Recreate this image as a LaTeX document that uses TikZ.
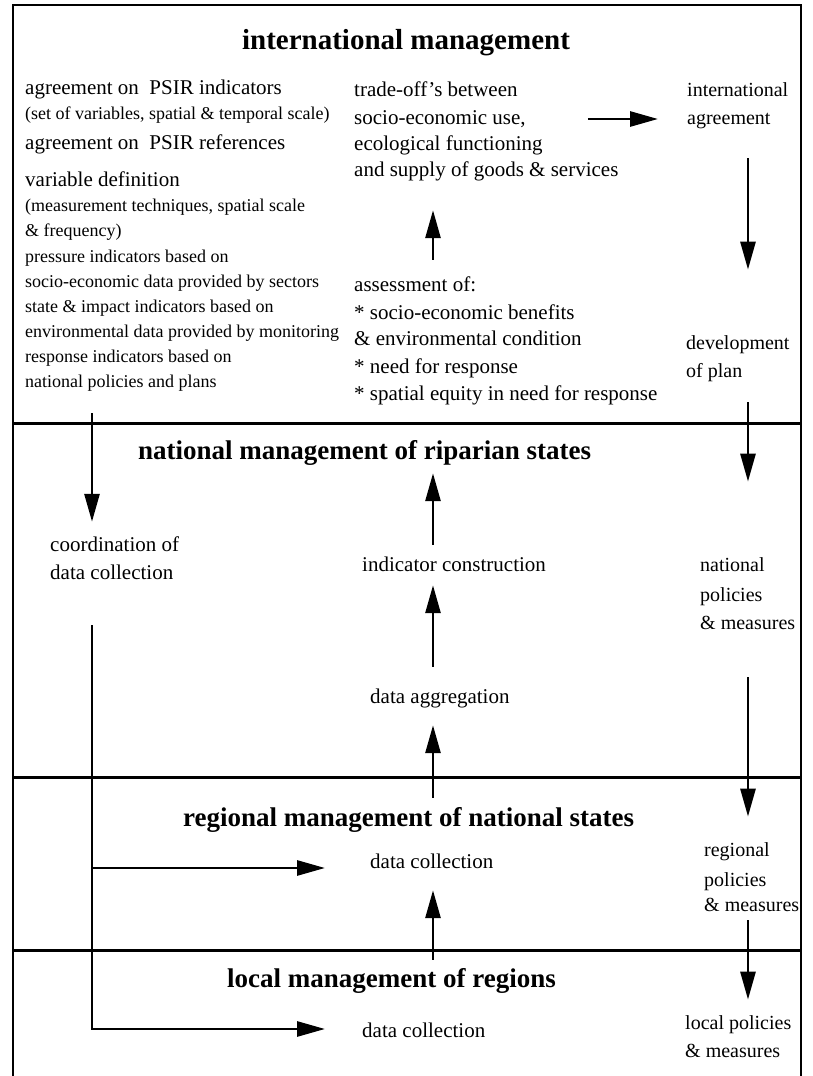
\documentclass[tikz,border=0pt]{standalone}
\usepackage{fontspec}
\setmainfont{Liberation Serif}
\usetikzlibrary{arrows.meta}
\begin{document}
\begin{tikzpicture}[x=1pt,y=-1pt,
  txt/.style={anchor=west,inner sep=0pt,font=\fontsize{21}{25}\selectfont,text height=14.5pt,text depth=4.6pt},
  rtxt/.style={anchor=west,inner sep=0pt,font=\fontsize{20}{24}\selectfont,text height=13.8pt,text depth=4.4pt},
  sml/.style={anchor=west,inner sep=0pt,font=\fontsize{18}{22}\selectfont,text height=12.4pt,text depth=3.9pt},
  ttl/.style={anchor=west,inner sep=0pt,font=\fontsize{27}{32}\selectfont\bfseries,text height=18.6pt,text depth=5.9pt},
  arr/.style={line width=2.8pt,-{Triangle[length=28pt,width=15pt]}},
  framestyle/.style={line width=2pt},
  divider/.style={line width=3pt}]
\useasboundingbox (0,0) rectangle (812,1076);
% frame and dividers
\draw[framestyle] (13,1076) -- (13,5) -- (801,5) -- (801,1076);
\draw[divider] (13,423) -- (801,423);
\draw[divider] (13,777) -- (801,777);
\draw[divider] (13,950) -- (801,950);
% column coordinates
\coordinate (lx) at (92,0);
\coordinate (mx) at (433,0);
\coordinate (rx) at (748,0);
% titles
\node[ttl,anchor=center,font=\fontsize{29}{34}\selectfont\bfseries] (t1) at (406,43) {international management};
\node[ttl] (t2) at (138,453) {national management of riparian states};
\node[ttl] (t3) at (183,820) {regional management of national states};
\node[ttl] (t4) at (227,981) {local management of regions};
% left column, top
\node[txt] (a1) at (25,90) {agreement on\enspace PSIR indicators};
\node[sml] (a2) at (25,115) {(set of variables, spatial \& temporal scale)};
\node[txt] (a3) at (25,145) {agreement on\enspace PSIR references};
\node[txt] (b1) at (25,182) {variable definition};
\node[sml] (b2) at (25,207) {(measurement techniques, spatial scale};
\node[sml] (b3) at (25,232) {\& frequency)};
\node[sml] (c1) at (25,258) {pressure indicators based on};
\node[sml] (c2) at (25,283) {socio-economic data provided by sectors};
\node[sml] (c3) at (25,308) {state \& impact indicators based on};
\node[sml] (c4) at (25,333) {environmental data provided by monitoring};
\node[sml] (c5) at (25,358) {response indicators based on};
\node[sml] (c6) at (25,383) {national policies and plans};
% middle column, top
\node[txt] (m1) at (354,92) {trade-off’s between};
\node[txt] (m2) at (354,120) {socio-economic use,};
\node[txt] (m3) at (354,146) {ecological functioning};
\node[txt] (m4) at (354,172) {and supply of goods \& services};
\node[txt] (n1) at (354,287) {assessment of:};
\node[txt] (n2) at (354,315) {* socio-economic benefits};
\node[txt] (n3) at (354,341) {\& environmental condition};
\node[txt] (n4) at (354,369) {* need for response};
\node[txt] (n5) at (354,396) {* spatial equity in need for response};
% right column
\node[rtxt] (r1) at (687,92) {international};
\node[rtxt] (r2) at (687,120) {agreement};
\node[rtxt] (r3) at (686,345) {development};
\node[rtxt] (r4) at (686,373) {of plan};
\node[rtxt] (r5) at (700,567) {national};
\node[rtxt] (r6) at (700,597) {policies};
\node[rtxt] (r7) at (700,625) {\& measures};
\node[rtxt] (r8) at (704,852) {regional};
\node[rtxt] (r9) at (704,882) {policies};
\node[rtxt] (r10) at (704,907) {\& measures};
\node[rtxt] (r11) at (685,1025) {local policies};
\node[rtxt] (r12) at (685,1053) {\& measures};
% lower left and middle
\node[txt] (e1) at (50,547) {coordination of};
\node[txt] (e2) at (50,575) {data collection};
\node[txt] (d1) at (362,567) {indicator construction};
\node[txt] (d2) at (370,699) {data aggregation};
\node[txt] (d3) at (370,864) {data collection};
\node[txt] (d4) at (362,1033) {data collection};
% arrows, middle column
\draw[arr,shorten <=17.45pt,shorten >=28.45pt] (n1.north -| mx) -- (m4.south -| mx);
\draw[arr,shorten <=12.45pt,shorten >=7.75pt] (d1.north -| mx) -- (t2.south -| mx);
\draw[arr,shorten <=22.45pt,shorten >=8.45pt] (d2.north -| mx) -- (d1.south -| mx);
\draw[arr,shorten <=9.75pt,shorten >=16.45pt] (t3.north -| mx) -- (d2.south -| mx);
\draw[arr,shorten <=8.75pt,shorten >=16.45pt] (t4.north -| mx) -- (d3.south -| mx);
% arrow to international agreement
\draw[arr,shorten <=62pt,shorten >=29pt] ([yshift=1pt]m2.east) -- ([yshift=1pt]m2.east -| r2.west);
% arrows, right column
\draw[arr,shorten <=29.1pt,shorten >=66.1pt] (r2.south -| rx) -- (r3.north -| rx);
\draw[arr,shorten <=20.1pt,shorten >=76.1pt] (r4.south -| rx) -- (r5.north -| rx);
\draw[arr,shorten <=43.1pt,shorten >=26.1pt] (r7.south -| rx) -- (r8.north -| rx);
\draw[arr,shorten <=4.1pt,shorten >=16.1pt] (r10.south -| rx) -- (r11.north -| rx);
% arrows, left column
\draw[arr,shorten <=21.85pt,shorten >=15.45pt] (c6.south -| lx) -- (e1.north -| lx);
\draw[arr,shorten <=40.45pt,shorten >=37pt] (e2.south -| lx) |- ([yshift=4pt]d4.west);
\draw[arr,shorten >=45pt] ([yshift=-4pt]d3.west -| lx) -- ([yshift=-4pt]d3.west);
\end{tikzpicture}
\end{document}
